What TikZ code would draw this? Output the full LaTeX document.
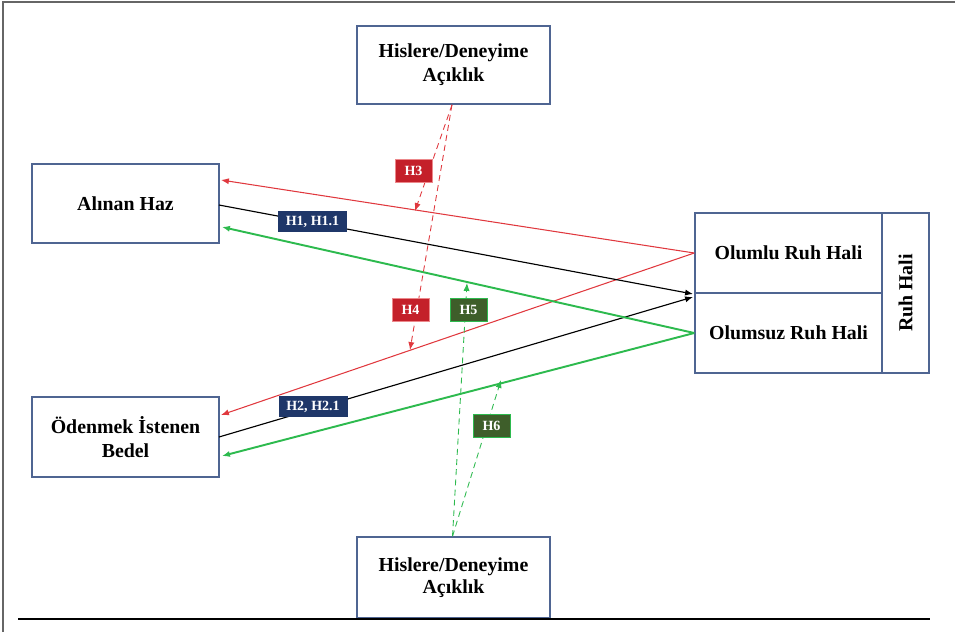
\documentclass[tikz,border=0pt]{standalone}
\usepackage{fontspec}
\setmainfont{Liberation Serif}
\usetikzlibrary{arrows.meta}

\definecolor{boxline}{HTML}{4F6592}
\definecolor{hred}{HTML}{E0383E}
\definecolor{hredfill}{HTML}{C4202A}
\definecolor{hgreen}{HTML}{2DBA4E}
\definecolor{hgreenfill}{HTML}{3E5E2A}
\definecolor{hnavy}{HTML}{1F3769}

\tikzset{
    konstrukt/.style={draw=boxline, line width=0.9pt, fill=white, align=center,
        font=\fontsize{11.3}{13.5}\selectfont\bfseries, inner sep=0pt},
    etiket/.style={font=\fontsize{8}{9}\selectfont\bfseries, text=white, inner sep=0pt,
        minimum width=0.74cm, minimum height=0.46cm},
    tip/.style={-{Latex[length=4.5pt, width=3.5pt]}},
    hat/.style={dash pattern=on 3.4pt off 2.4pt}
}

\begin{document}
\begin{tikzpicture}[x=0.02cm, y=-0.02cm]
    \useasboundingbox (0,0) rectangle (955,632);
    % cerceve
    \draw [gray!80!black, line width=1.1pt] (3,632) -- (3,2) -- (955,2);

    % kutular
    \node[konstrukt, minimum width=3.86cm, minimum height=1.56cm] (ustacik) at (453.5,65) {Hislere/Deneyime\\Açıklık};
    \node[konstrukt, minimum width=3.86cm, minimum height=1.62cm] (altacik) at (453.5,577.5) {Hislere/Deneyime\\[-1pt]Açıklık};
    \node[konstrukt, minimum width=3.74cm, minimum height=1.58cm] (haz) at (125.5,203.5) {Alınan Haz};
    \node[konstrukt, minimum width=3.74cm, minimum height=1.6cm] (bedel) at (125.5,437) {Ödenmek İstenen\\Bedel};
    \node[konstrukt, minimum width=3.74cm, minimum height=1.6cm] (olumlu) at (788.5,253) {Olumlu Ruh Hali};
    \node[konstrukt, minimum width=3.74cm, minimum height=1.6cm] (olumsuz) at (788.5,333) {Olumsuz Ruh Hali};
    \node[konstrukt, minimum width=3.2cm, minimum height=0.94cm, rotate=90] (ruh) at (905.5,293) {Ruh Hali};
    \draw [line width=0.85pt] (18,619) -- (930,619);

    % uc noktalar
    \coordinate (hazust) at (221,180);
    \coordinate (hazorta) at (219,205);
    \coordinate (hazalt) at (222,227);
    \coordinate (bedelust) at (221,415);
    \coordinate (bedelorta) at (219,437);
    \coordinate (bedelalt) at (222,456);
    \coordinate (ruhorta1) at (693,294);
    \coordinate (ruhorta2) at (693,297);
    \coordinate (h3uc) at (415,211);
    \coordinate (h4uc) at (410,350);
    \coordinate (h5uc) at (467,283);
    \coordinate (h6uc) at (501,380);

    % ana yollar
    \draw [tip, hred, line width=0.6pt] (olumlu.west) -- (hazust);
    \draw [tip, hred, line width=0.6pt] (olumlu.west) -- (bedelust);
    \draw [tip, line width=0.65pt] (hazorta) -- (ruhorta1);
    \draw [tip, line width=0.65pt] (bedelorta) -- (ruhorta2);
    \draw [tip, hgreen, line width=1.1pt] (olumsuz.west) -- (hazalt);
    \draw [tip, hgreen, line width=1.1pt] (olumsuz.west) -- (bedelalt);

    % duzenleyici etkiler
    \draw [tip, hat, hred, line width=0.5pt] ([xshift=-0.03cm]ustacik.south) -- (h3uc);
    \draw [tip, hat, hred, line width=0.5pt] ([xshift=-0.03cm]ustacik.south) -- (h4uc);
    \draw [tip, hat, hgreen, line width=0.5pt] ([xshift=-0.02cm]altacik.north) -- (h5uc);
    \draw [tip, hat, hgreen, line width=0.5pt] ([xshift=-0.02cm]altacik.north) -- (h6uc);

    % etiketler
    \node[etiket, fill=hnavy, minimum width=1.38cm, minimum height=0.42cm] (h1) at (312.5,221.5) {H1, H1.1};
    \node[etiket, fill=hnavy, minimum width=1.38cm, minimum height=0.42cm] (h2) at (313,406.5) {H2, H2.1};
    \node[etiket, fill=hredfill, draw=hred!60, line width=0.4pt] (h3) at (413.5,170.5) {H3};
    \node[etiket, fill=hredfill, draw=hred!60, line width=0.4pt] (h4) at (410.5,309.5) {H4};
    \node[etiket, fill=hgreenfill, draw=hgreen, line width=0.5pt] (h5) at (468.5,309.5) {H5};
    \node[etiket, fill=hgreenfill, draw=hgreen, line width=0.5pt] (h6) at (491.5,426) {H6};
\end{tikzpicture}
\end{document}
